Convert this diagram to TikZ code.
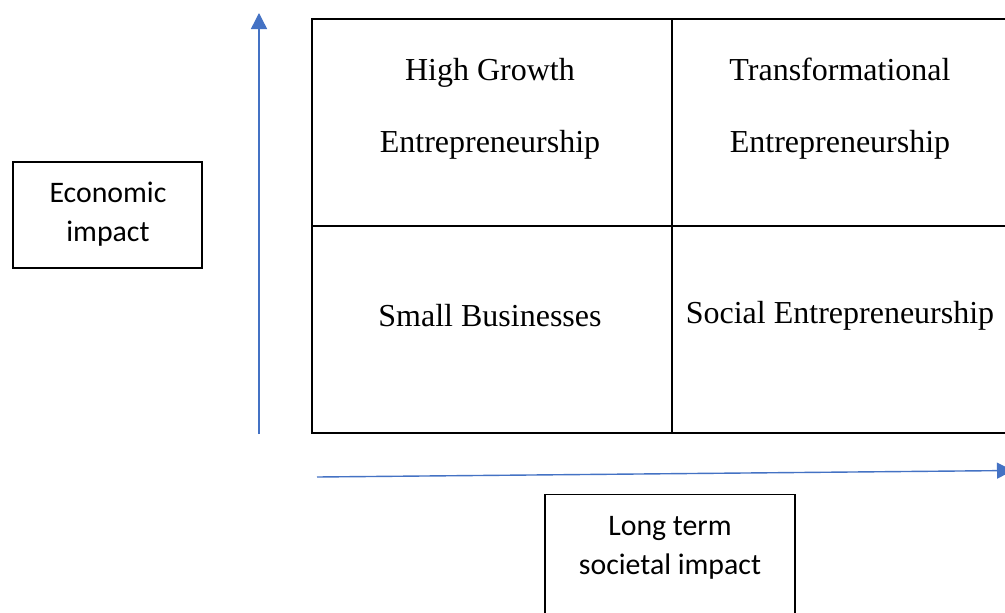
\documentclass[tikz,border=0pt]{standalone}
\usepackage{fontspec}
\setmainfont{Liberation Serif}
\newfontfamily\labelfont{Carlito}
\usetikzlibrary{arrows.meta}
\definecolor{axisblue}{HTML}{4472C4}
\begin{document}
\begin{tikzpicture}[x=1pt,y=-1pt,
  cell/.style={draw=black,line width=1.8pt,minimum width=360pt,minimum height=207pt,inner sep=0pt,anchor=north west},
  celltext/.style={font=\fontsize{32}{72}\selectfont,align=center,inner sep=0pt},
  labelbox/.style={draw=black,line width=1.4pt,inner sep=0pt},
  labeltext/.style={font=\labelfont\fontsize{29.8}{39}\selectfont,align=center,inner sep=0pt},
  axis/.style={draw=axisblue,line width=1.4pt,-{Triangle[width=16pt,length=16pt]}}]
\clip (0,0) rectangle (1005,613);
\fill[white] (0,0) rectangle (1005,613);
% quadrant cells
\node[cell] (c11) at (311,18) {};
\node[cell] (c12) at (671,18) {};
\node[cell] (c21) at (311,225) {};
\node[cell] (c22) at (671,225) {};
% quadrant texts
\node[celltext] (t11) at (490,108.5) {High Growth\\Entrepreneurship};
\node[celltext] (t12) at (840,108.5) {Transformational\\Entrepreneurship};
\node[celltext] (t21) at (490,316) {Small Businesses};
\node[celltext] (t22) at (840,316) {Social Entrepreneurship};
% axis labels
\node[labelbox,minimum width=189pt,minimum height=106pt] (econ) at (107.5,215) {};
\node[labeltext] (econt) at (108,214.5) {Economic\\impact};
\node[labelbox,minimum width=250pt,minimum height=130pt,anchor=north] (soc) at (670,494) {};
\node[labeltext] (soct) at (670,547.5) {Long term\\societal impact};
% axes
\coordinate (ys) at (259,434);
\coordinate (ye) at (259,13);
\coordinate (xs) at (317,477);
\coordinate (xe) at (1013,470.5);
\draw[axis] (ys) -- (ye);
\draw[axis] (xs) -- (xe);
\end{tikzpicture}
\end{document}
